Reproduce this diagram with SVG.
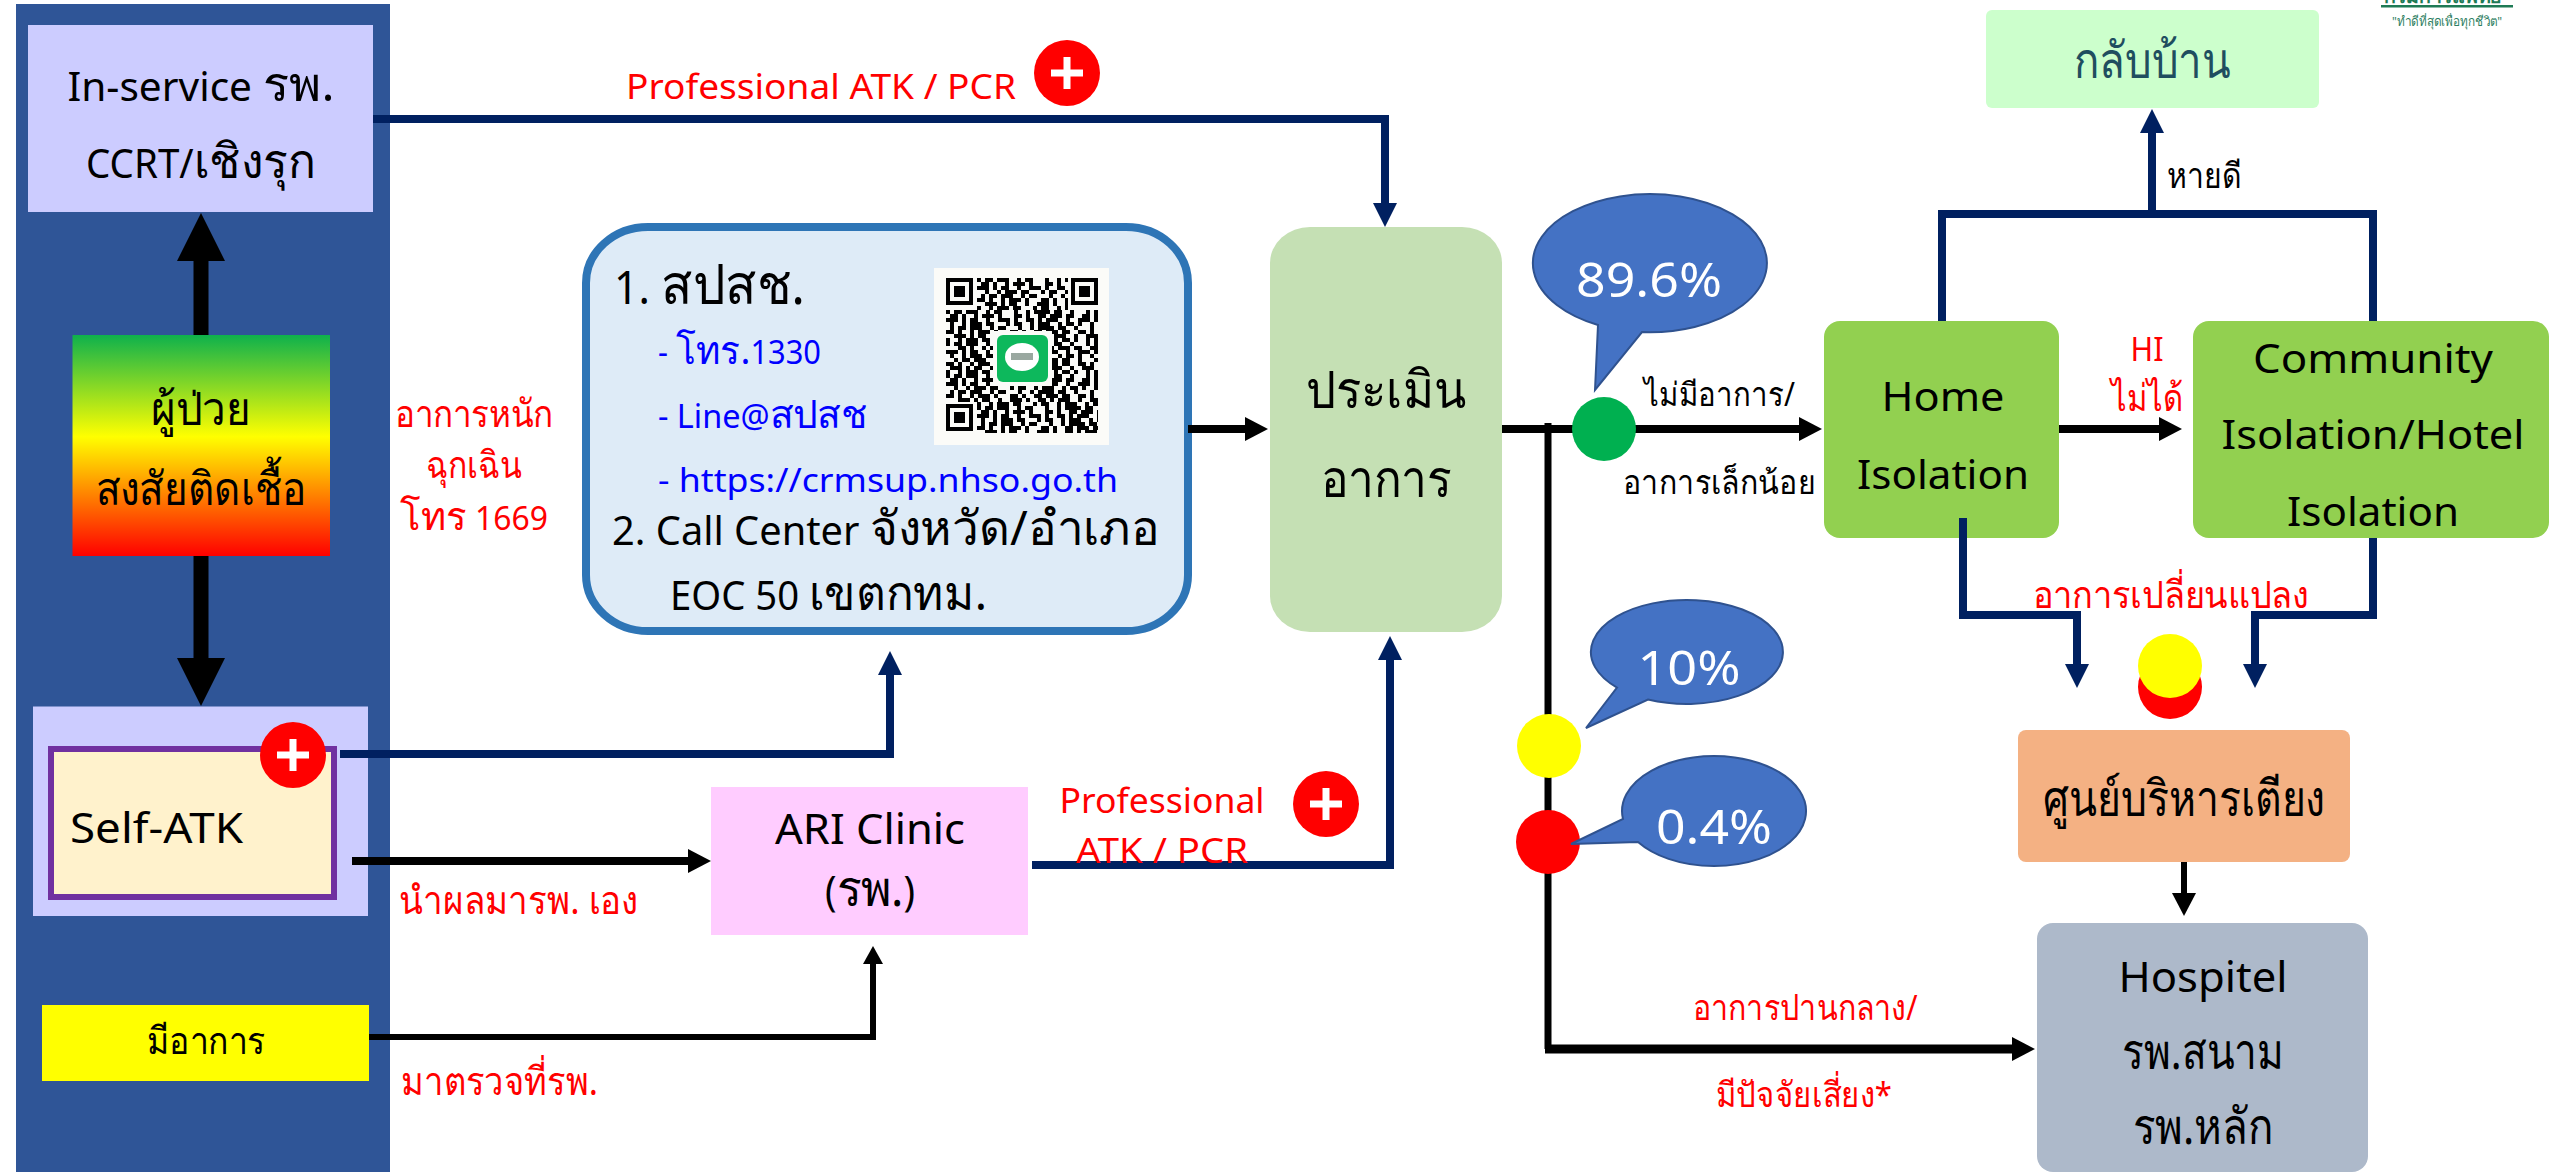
<svg xmlns="http://www.w3.org/2000/svg" width="2549" height="1172" viewBox="0 0 2549 1172">
<style>
text{font-family:"Noto Sans","DejaVu Sans",sans-serif;fill:#000;text-anchor:middle}
text.s{text-anchor:start}
tspan.t{font-size:1.2em}
.red{fill:#f00}.blue{fill:#00f}.w{fill:#fff}
.navy{fill:none;stroke:#002060;stroke-width:8}
.blk{fill:none;stroke:#000;stroke-width:8}
.bub{fill:#4472c4;stroke:#2f528f;stroke-width:2}
.q{fill:none;stroke:#000;stroke-width:4.2}
</style>
<defs>
<linearGradient id="g" x1="0" y1="0" x2="0" y2="1"><stop offset="0" stop-color="#0eb14c"/><stop offset=".46" stop-color="#ff0"/><stop offset="1" stop-color="#f00"/></linearGradient>
<marker id="an" markerUnits="userSpaceOnUse" markerWidth="24" markerHeight="24" viewBox="0 0 24 24" refX="4" refY="12" orient="auto"><path d="M0 0L24 12L0 24Z" fill="#002060"/></marker>
<marker id="ab" markerUnits="userSpaceOnUse" markerWidth="23" markerHeight="24" viewBox="0 0 23 24" refX="3" refY="12" orient="auto"><path d="M0 0L23 12L0 24Z" fill="#000"/></marker>
<marker id="as" markerUnits="userSpaceOnUse" markerWidth="18" markerHeight="20" viewBox="0 0 18 20" refX="2" refY="10" orient="auto"><path d="M0 0L18 10L0 20Z" fill="#000"/></marker>
<marker id="al" markerUnits="userSpaceOnUse" markerWidth="48" markerHeight="48" viewBox="0 0 48 48" refX="4" refY="24" orient="auto"><path d="M0 0L48 24L0 48Z" fill="#000"/></marker>
<filter id="bl" x="0" y="0" width="1" height="1"><feGaussianBlur stdDeviation=".7"/></filter>
<g id="plus"><circle r="33" fill="#f00"/><path d="M-16-3.500H-3.500V-16H3.500V-3.500H16V3.500H3.500V16H-3.500V3.500H-16Z" fill="#fff"/></g>
</defs>

<rect id="panel" x="16" y="4" width="374" height="1168" fill="#2f5597"/>

<g id="logo">
<text x="2443" y="3" font-size="20" font-weight="700" style="fill:#1e7a55" textLength="118" lengthAdjust="spacingAndGlyphs">กรมการแพทย์</text>
<rect x="2381" y="5" width="132" height="2.500" fill="#1e7a55"/>
<text x="2447" y="26" font-size="13" style="fill:#2f7f63" textLength="110" lengthAdjust="spacingAndGlyphs">"ทำดีที่สุดเพื่อทุกชีวิต"</text>
</g>

<g id="inservice"><rect x="28" y="25" width="345" height="187" fill="#ccf"/>
<text x="201" y="101" font-size="40" textLength="267" lengthAdjust="spacingAndGlyphs">In-service <tspan class="t">รพ.</tspan></text>
<text x="201" y="178" font-size="40" textLength="230" lengthAdjust="spacingAndGlyphs">CCRT/<tspan class="t">เชิงรุก</tspan></text></g>

<g id="patient"><rect x="72.500" y="335" width="257.500" height="221" fill="url(#g)"/>
<text x="201" y="425" font-size="46" textLength="100" lengthAdjust="spacingAndGlyphs">ผู้ป่วย</text>
<text x="201" y="505" font-size="46" textLength="211" lengthAdjust="spacingAndGlyphs">สงสัยติดเชื้อ</text></g>

<g id="selfatk"><rect x="33" y="706.500" width="335" height="209.500" fill="#ccf"/>
<rect x="51" y="749" width="283" height="148" fill="#fff2cc" stroke="#7030a0" stroke-width="6"/>
<text class="s" x="70" y="843" font-size="41" textLength="173" lengthAdjust="spacingAndGlyphs">Self-ATK</text>
<use href="#plus" x="293" y="755"/></g>

<g id="symptom"><rect x="42" y="1005" width="327" height="76" fill="#ff0"/>
<text x="206" y="1054" font-size="38" textLength="118" lengthAdjust="spacingAndGlyphs">มีอาการ</text></g>

<g id="hotline"><rect x="586" y="227" width="602" height="404" rx="62" ry="56" fill="#deebf7" stroke="#2e75b6" stroke-width="8"/>
<text class="s" x="614" y="304" font-size="46" textLength="191" lengthAdjust="spacingAndGlyphs">1. <tspan class="t">สปสช.</tspan></text>
<text class="s blue" x="658" y="364" font-size="32" textLength="163" lengthAdjust="spacingAndGlyphs">- <tspan class="t">โทร.</tspan>1330</text>
<text class="s blue" x="658" y="428" font-size="32" textLength="209" lengthAdjust="spacingAndGlyphs">- Line@<tspan class="t">สปสช</tspan></text>
<text class="s blue" x="658" y="492" font-size="32" textLength="460" lengthAdjust="spacingAndGlyphs">- https://crmsup.nhso.go.th</text>
<text class="s" x="612" y="545" font-size="40" textLength="548" lengthAdjust="spacingAndGlyphs">2. Call Center <tspan class="t">จังหวัด/อำเภอ</tspan></text>
<text class="s" x="670" y="610" font-size="40" textLength="317" lengthAdjust="spacingAndGlyphs">EOC 50 <tspan class="t">เขตกทม.</tspan></text>
<g id="qr">
<rect x="934" y="268" width="175" height="177" fill="#fbfbf8"/>
<g filter="url(#bl)">
<path class="q" stroke-dasharray="4 4 8 4 12 8 4 4 8 12 4 8 4 4 16 4 8 8 4 12" d="M977 280H1068M981 296H1068M946 312H1098M950 328H1098M946 344H1098M954 360H1098M946 376H1098M950 392H1098M977 408H1098M981 424H1098"/>
<path class="q" stroke-dasharray="8 4 4 8 4 4 12 4 4 12 8 4 4 8 8 4 12 4 8 8" d="M981 284H1068M977 300H1068M950 316H1098M946 332H1098M958 348H1098M946 364H1098M950 380H1098M946 396H1098M981 412H1098M977 428H1098"/>
<path class="q" stroke-dasharray="12 4 4 4 8 8 4 8 12 4 4 8 8 4 4 4 12 8 4 8" d="M977 288H1068M985 304H1068M946 320H1098M954 336H1098M946 352H1098M950 368H1098M946 384H1098M958 400H1098M977 416H1098M985 432H1098"/>
<path class="q" stroke-dasharray="4 8 4 4 12 4 8 12 4 4 8 8 4 4 12 8 4 4 8 4" d="M985 292H1068M977 308H1068M950 324H1098M946 340H1098M950 356H1098M946 372H1098M954 388H1098M977 404H1098M981 420H1098"/>
<rect x="946" y="278" width="29" height="29" fill="#fbfbf8"/><rect x="1069" y="278" width="29" height="29" fill="#fbfbf8"/><rect x="946" y="404" width="29" height="29" fill="#fbfbf8"/>
<path d="M948 280h23v23h-23zM1073 280h23v23h-23zM948 406h23v23h-23z" fill="none" stroke="#000" stroke-width="4"/>
<path d="M954 286h11v11h-11zM1079 286h11v11h-11zM954 412h11v11h-11z" fill="#000"/>
<rect x="993" y="331" width="59" height="55" fill="#fbfbf8"/>
<rect x="997" y="335" width="51" height="47" rx="6" fill="#0fb85c"/>
<ellipse cx="1022" cy="357" rx="17" ry="14" fill="#fff"/>
<rect x="1011" y="353" width="22" height="7" fill="#9aa8a0"/>
</g></g></g>

<g id="ari"><rect x="711" y="787" width="317" height="148" fill="#fcf"/>
<text x="870" y="844" font-size="41" textLength="190" lengthAdjust="spacingAndGlyphs">ARI Clinic</text>
<text x="870" y="906" font-size="41" textLength="90" lengthAdjust="spacingAndGlyphs">(<tspan class="t">รพ.</tspan>)</text></g>

<g id="assess"><rect x="1270" y="227" width="232" height="405" rx="40" ry="36" fill="#c5e0b4"/>
<text x="1386" y="408" font-size="52" textLength="161" lengthAdjust="spacingAndGlyphs">ประเมิน</text>
<text x="1386" y="497" font-size="52" textLength="131" lengthAdjust="spacingAndGlyphs">อาการ</text></g>

<g id="home"><rect x="1824" y="321" width="235" height="217" rx="16" fill="#92d050"/>
<text x="1943" y="411" font-size="40" textLength="123" lengthAdjust="spacingAndGlyphs">Home</text>
<text x="1943" y="489" font-size="40" textLength="172" lengthAdjust="spacingAndGlyphs">Isolation</text></g>

<g id="community"><rect x="2193" y="321" width="356" height="217" rx="16" fill="#92d050"/>
<text x="2373" y="373" font-size="40" textLength="240" lengthAdjust="spacingAndGlyphs">Community</text>
<text x="2373" y="449" font-size="40" textLength="303" lengthAdjust="spacingAndGlyphs">Isolation/Hotel</text>
<text x="2373" y="526" font-size="40" textLength="172" lengthAdjust="spacingAndGlyphs">Isolation</text></g>

<g id="gohome"><rect x="1986" y="10" width="333" height="98" rx="6" fill="#cfc"/>
<text x="2152" y="78" font-size="50" style="fill:#1f4e5f" textLength="157" lengthAdjust="spacingAndGlyphs">กลับบ้าน</text></g>

<g id="beds"><rect x="2018" y="730" width="332" height="132" rx="8" fill="#f4b183"/>
<text x="2184" y="816" font-size="50" textLength="282" lengthAdjust="spacingAndGlyphs">ศูนย์บริหารเตียง</text></g>

<g id="hospitel"><rect x="2037" y="923" width="331" height="249" rx="16" fill="#adb9ca"/>
<text x="2203" y="992" font-size="42" textLength="169" lengthAdjust="spacingAndGlyphs">Hospitel</text>
<text x="2203" y="1069" font-size="50" textLength="162" lengthAdjust="spacingAndGlyphs">รพ.สนาม</text>
<text x="2203" y="1144" font-size="50" textLength="141" lengthAdjust="spacingAndGlyphs">รพ.หลัก</text></g>

<g id="connectors">
<path class="blk" style="stroke-width:15" d="M201 335V257" marker-end="url(#al)"/>
<path class="blk" style="stroke-width:15" d="M201 556V662" marker-end="url(#al)"/>
<path class="navy" d="M373 119H1385V207" marker-end="url(#an)"/>
<path class="navy" d="M340 754H890V671" marker-end="url(#an)"/>
<path class="blk" d="M352 861H691" marker-end="url(#ab)"/>
<path class="blk" style="stroke-width:6" d="M369 1037H873V962" marker-end="url(#as)"/>
<path class="navy" d="M1032 865H1390V656" marker-end="url(#an)"/>
<path class="blk" d="M1188 429H1248" marker-end="url(#ab)"/>
<path class="blk" d="M1502 429H1802" marker-end="url(#ab)"/>
<path class="blk" style="stroke-width:7" d="M1548 423V1049"/>
<path class="blk" style="stroke-width:9" d="M1545 1049H2015" marker-end="url(#ab)"/>
<path class="blk" d="M2059 429H2162" marker-end="url(#ab)"/>
<path class="navy" d="M1942 321V214H2373V321"/>
<path class="navy" d="M2152 214V129" marker-end="url(#an)"/>
<path class="navy" d="M1963 518V615H2077V668" marker-end="url(#an)"/>
<path class="navy" d="M2373 538V615H2255V668" marker-end="url(#an)"/>
<path class="blk" style="stroke-width:6" d="M2184 862V896" marker-end="url(#ab)"/>
</g>

<g id="green"><circle cx="1604" cy="429" r="32" fill="#00b050"/></g>
<g id="yellow"><circle cx="1549" cy="746" r="32" fill="#ff0"/></g>
<g id="redd"><circle cx="1548" cy="842" r="32" fill="#f00"/></g>
<g id="dots"><circle cx="2170" cy="687" r="32" fill="#f00"/><circle cx="2170" cy="666" r="32" fill="#ff0"/></g>

<g id="b896"><path class="bub" d="M1598 325A117 69 0 1 1 1642 332L1595 390Z"/>
<text class="w" x="1649" y="297" font-size="48" textLength="146" lengthAdjust="spacingAndGlyphs">89.6%</text></g>
<g id="b10"><path class="bub" d="M1617 687.600A96 52 0 1 1 1648 699.500L1586 728Z"/>
<text class="w" x="1689" y="685" font-size="48" textLength="103" lengthAdjust="spacingAndGlyphs">10%</text></g>
<g id="b04"><path class="bub" d="M1623 819A92 55 0 1 1 1638 842L1571 844Z"/>
<text class="w" x="1714" y="844" font-size="48" textLength="116" lengthAdjust="spacingAndGlyphs">0.4%</text></g>

<g id="labels">
<text class="red" x="821" y="99" font-size="34" textLength="390" lengthAdjust="spacingAndGlyphs">Professional ATK / PCR</text>
<use href="#plus" x="1067" y="73"/>
<text class="red" x="474" y="427" font-size="38" textLength="159" lengthAdjust="spacingAndGlyphs">อาการหนัก</text>
<text class="red" x="474" y="478" font-size="38" textLength="96" lengthAdjust="spacingAndGlyphs">ฉุกเฉิน</text>
<text class="red" x="474" y="530" font-size="32" textLength="148" lengthAdjust="spacingAndGlyphs"><tspan class="t">โทร</tspan> 1669</text>
<text class="red s" x="399" y="914" font-size="39" textLength="239" lengthAdjust="spacingAndGlyphs">นำผลมารพ. เอง</text>
<text class="red s" x="401" y="1095" font-size="39" textLength="197" lengthAdjust="spacingAndGlyphs">มาตรวจที่รพ.</text>
<text class="red" x="1162" y="813" font-size="34" textLength="205" lengthAdjust="spacingAndGlyphs">Professional</text>
<text class="red" x="1162" y="863" font-size="34" textLength="172" lengthAdjust="spacingAndGlyphs">ATK / PCR</text>
<use href="#plus" x="1326" y="804"/>
<text class="s" x="1644" y="406" font-size="33" textLength="151" lengthAdjust="spacingAndGlyphs">ไม่มีอาการ/</text>
<text class="s" x="1623" y="494" font-size="33" textLength="192" lengthAdjust="spacingAndGlyphs">อาการเล็กน้อย</text>
<text class="red" x="2147" y="361" font-size="32" textLength="33" lengthAdjust="spacingAndGlyphs">HI</text>
<text class="red" x="2147" y="411" font-size="38" textLength="72" lengthAdjust="spacingAndGlyphs">ไม่ได้</text>
<text class="s" x="2167" y="188" font-size="35" textLength="75" lengthAdjust="spacingAndGlyphs">หายดี</text>
<text class="red" x="2171" y="608" font-size="38" textLength="277" lengthAdjust="spacingAndGlyphs">อาการเปลี่ยนแปลง</text>
<text class="red" x="1805" y="1020" font-size="35" textLength="225" lengthAdjust="spacingAndGlyphs">อาการปานกลาง/</text>
<text class="red" x="1804" y="1107" font-size="35" textLength="176" lengthAdjust="spacingAndGlyphs">มีปัจจัยเสี่ยง*</text>
</g>
</svg>
